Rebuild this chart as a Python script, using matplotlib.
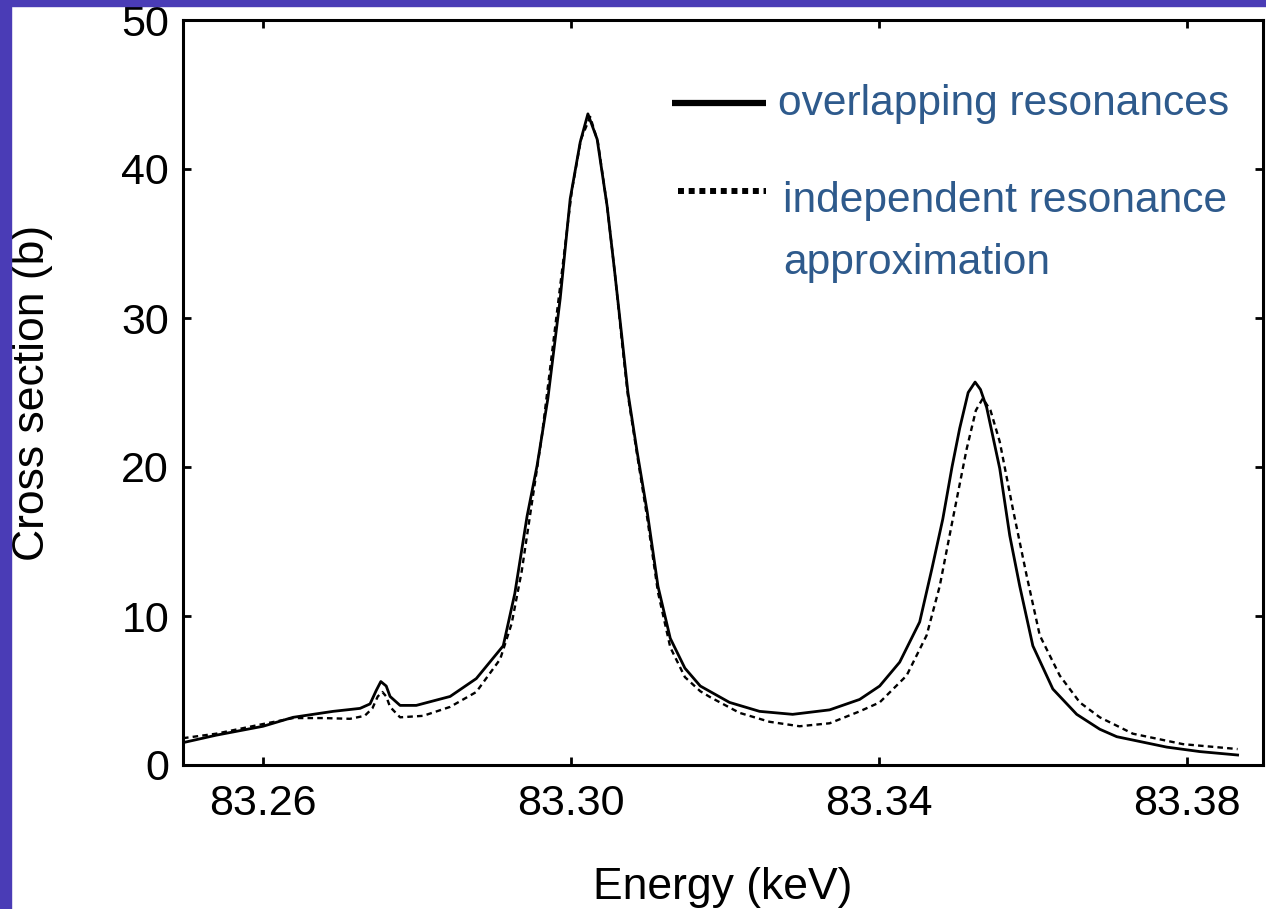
import matplotlib
matplotlib.use("Agg")
import matplotlib.pyplot as plt
from matplotlib.patches import Rectangle

plt.rcParams["font.family"] = ["Liberation Sans", "DejaVu Sans"]
plt.rcParams["lines.scale_dashes"] = False

# overlapping resonances (solid)
e_over = [83.2496, 83.2539, 83.2600, 83.2639, 83.2691, 83.2726, 83.2739, 83.2747,
          83.2753, 83.2760, 83.2765, 83.2778, 83.2799, 83.2843, 83.2877, 83.2912,
          83.2927, 83.2943, 83.2956, 83.2970, 83.2986, 83.2999, 83.3012, 83.3022,
          83.3034, 83.3047, 83.3057, 83.3066, 83.3074, 83.3086, 83.3099, 83.3113,
          83.3129, 83.3148, 83.3168, 83.3206, 83.3245, 83.3288, 83.3336, 83.3375,
          83.3401, 83.3427, 83.3453, 83.3469, 83.3483, 83.3495, 83.3505, 83.3516,
          83.3525, 83.3532, 83.3540, 83.3557, 83.3570, 83.3583, 83.3600, 83.3626,
          83.3657, 83.3687, 83.3709, 83.3774, 83.3817, 83.3866]
s_over = [1.5, 2.0, 2.6, 3.2, 3.6, 3.8, 4.1, 5.0,
          5.6, 5.3, 4.6, 4.0, 4.0, 4.6, 5.8, 8.0,
          11.5, 16.7, 20.1, 24.6, 31.3, 38.0, 41.8, 43.7,
          42.0, 37.5, 33.0, 28.8, 25.0, 21.0, 17.0, 12.0,
          8.5, 6.5, 5.3, 4.2, 3.6, 3.4, 3.7, 4.4,
          5.3, 6.9, 9.6, 13.2, 16.5, 20.0, 22.6, 25.0,
          25.7, 25.2, 24.0, 19.9, 15.4, 12.0, 8.0, 5.1,
          3.4, 2.4, 1.9, 1.2, 0.9, 0.67]

# independent resonance approximation (dashed)
e_ind = [83.2496, 83.2539, 83.2600, 83.2639, 83.2678, 83.2713, 83.2732, 83.2742,
         83.2749, 83.2755, 83.2760, 83.2765, 83.2778, 83.2808, 83.2843, 83.2877,
         83.2908, 83.2923, 83.2936, 83.2949, 83.2962, 83.2975, 83.2988, 83.3001,
         83.3013, 83.3025, 83.3035, 83.3047, 83.3057, 83.3066, 83.3074, 83.3086,
         83.3099, 83.3113, 83.3129, 83.3148, 83.3168, 83.3181, 83.3219, 83.3258,
         83.3297, 83.3336, 83.3375, 83.3401, 83.3436, 83.3462, 83.3479, 83.3496,
         83.3514, 83.3526, 83.3535, 83.3545, 83.3557, 83.3574, 83.3592, 83.3609,
         83.3635, 83.3661, 83.3687, 83.3730, 83.3795, 83.3866]
s_ind = [1.8, 2.1, 2.75, 3.15, 3.15, 3.1, 3.3, 3.8,
         4.6, 4.9, 4.6, 3.9, 3.2, 3.3, 3.9, 4.9,
         7.1, 9.5, 13.0, 17.5, 22.0, 27.5, 33.0, 38.5,
         42.0, 43.5, 41.8, 37.5, 33.0, 28.5, 24.8, 20.8,
         16.6, 11.6, 7.9, 5.9, 4.95, 4.55, 3.5, 2.9,
         2.6, 2.8, 3.6, 4.2, 6.0, 8.7, 12.0, 16.5,
         21.2, 23.8, 24.6, 23.8, 21.7, 17.2, 12.7, 8.7,
         6.0, 4.2, 3.2, 2.1, 1.4, 1.07]

xticks = [83.26, 83.30, 83.34, 83.38]
xticklabels = ["83.26", "83.30", "83.34", "83.38"]
yticks = [0, 10, 20, 30, 40, 50]

legend_labels = ["overlapping resonances", "independent resonance", "approximation"]

W, H = 1266, 909
fig = plt.figure(figsize=(W / 100, H / 100), dpi=100, facecolor="white")

# blue slide border on the left and top
blue = "#4a3cb6"
fig.patches.append(Rectangle((0, 0), 11 / W, 1, transform=fig.transFigure, color=blue, zorder=0))
fig.patches.append(Rectangle((0, 1 - 6 / H), 1, 6 / H, transform=fig.transFigure, color=blue, zorder=0))

ax = fig.add_axes([183 / W, 1 - 765 / H, 1080 / W, 745 / H])

ax.plot(e_over, s_over, color="black", lw=2.0, solid_joinstyle="round")
ax.plot(e_ind, s_ind, color="black", lw=1.7, linestyle=(0, (4.0, 3.0)))

ax.set_xlim(83.2496, 83.3899)
ax.set_ylim(0, 50)
ax.set_xticks(xticks)
ax.set_xticklabels(xticklabels)
ax.set_yticks(yticks)

for sp in ax.spines.values():
    sp.set_linewidth(2.2)
ax.tick_params(direction="in", length=6, width=2, top=True, right=True,
               labelsize=31)
ax.tick_params(axis="x", pad=14)
ax.tick_params(axis="y", pad=10)

ax.set_xlabel("Energy (keV)", fontsize=32)
ax.set_ylabel("Cross section (b)", fontsize=32)
ax.xaxis.set_label_coords(0.5, -0.137)
ax.yaxis.set_label_coords(-0.12, 0.5)

# legend drawn by hand
txt_color = "#2e5a8c"
ax.plot([0.4528, 0.5398], [0.8886, 0.8886], transform=ax.transAxes,
        color="black", lw=4.5, solid_capstyle="butt")
ax.plot([0.4583, 0.5398], [0.7705, 0.7705], transform=ax.transAxes,
        color="black", lw=4.3, linestyle=(0, (4.3, 3.4)), dash_capstyle="butt")
ax.text(0.551, 0.8866, legend_labels[0], transform=ax.transAxes,
        fontsize=30.6, color=txt_color, va="center", ha="left")
ax.text(0.5556, 0.7565, legend_labels[1], transform=ax.transAxes,
        fontsize=30.6, color=txt_color, va="center", ha="left")
ax.text(0.5556, 0.6732, legend_labels[2], transform=ax.transAxes,
        fontsize=30.6, color=txt_color, va="center", ha="left")

fig.savefig("out.png", dpi=100, facecolor=fig.get_facecolor())
